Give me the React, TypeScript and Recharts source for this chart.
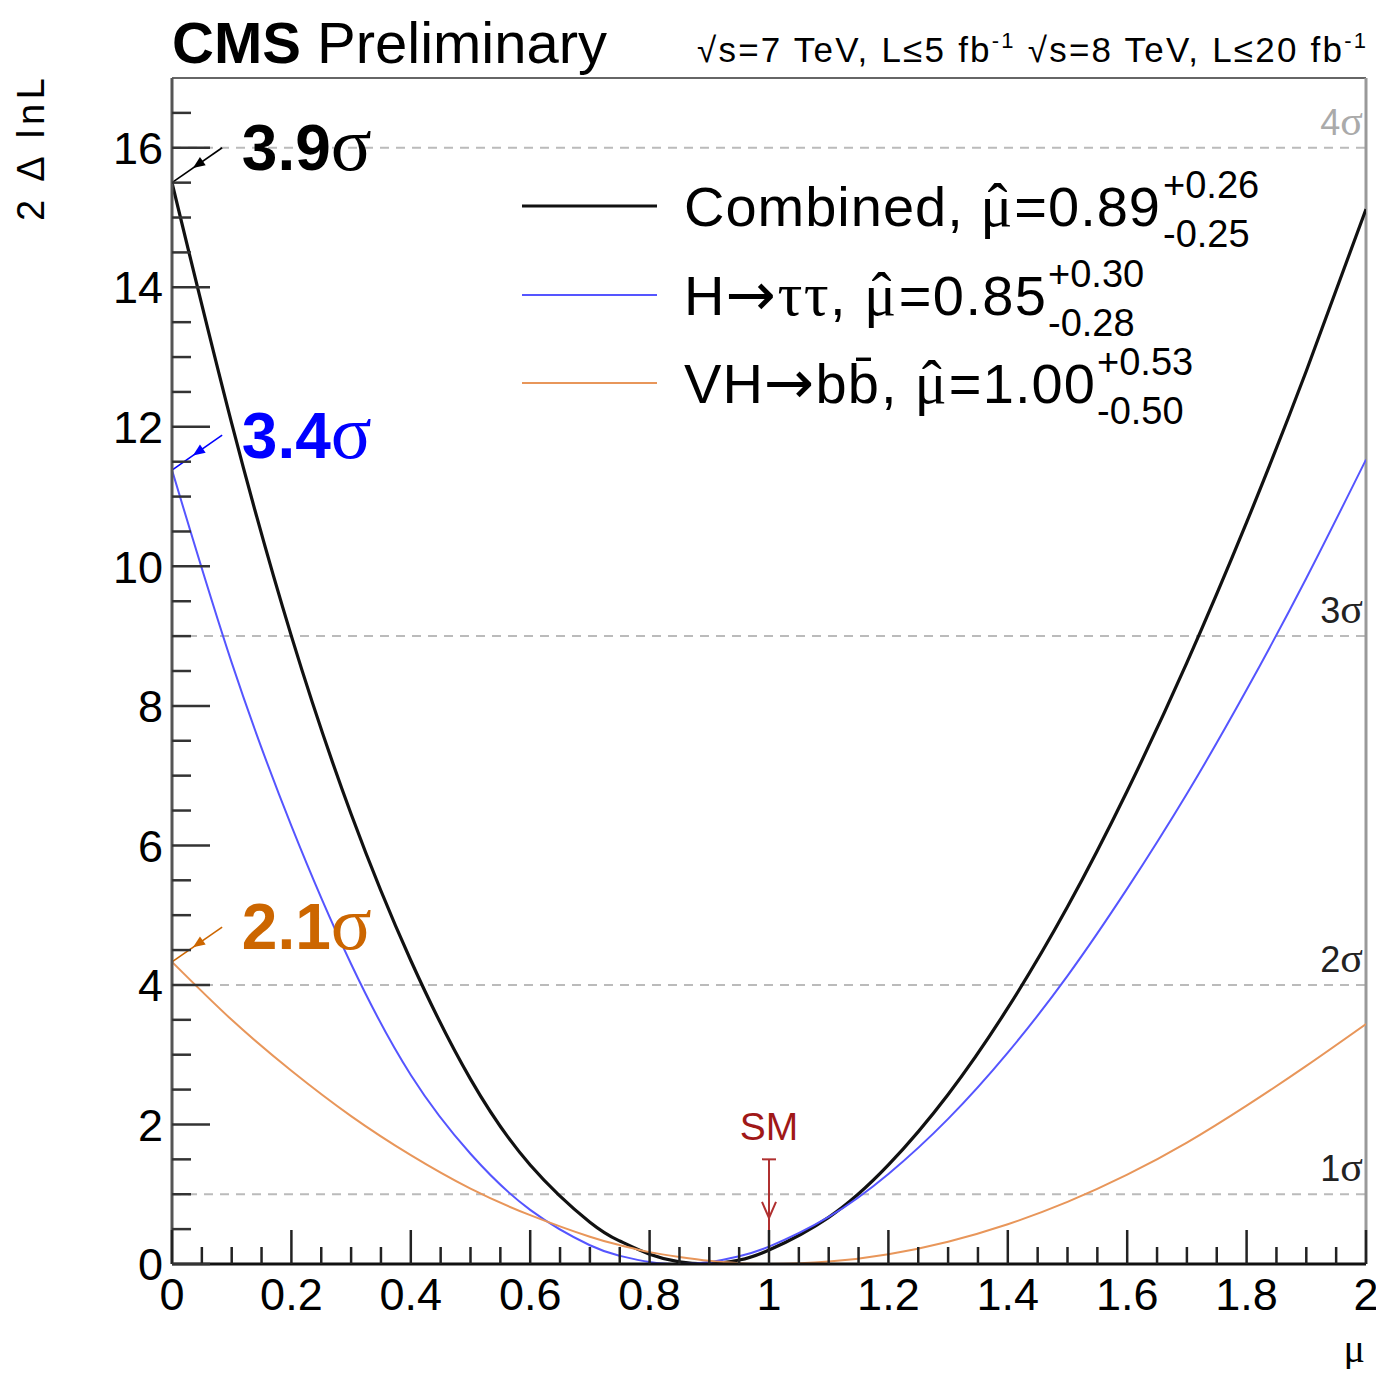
import {
  LineChart,
  Line,
  XAxis,
  YAxis,
  ReferenceLine,
  ReferenceDot,
  Legend,
} from "recharts";

const SANS = "'Liberation Sans', Arial, sans-serif";
const SERIF = "'Liberation Serif', 'Times New Roman', serif";
const ARROWFONT = "'DejaVu Sans', sans-serif";

// mu scan points and 2*Delta lnL
const mu = [0, 0.1, 0.2, 0.3, 0.4, 0.5, 0.6, 0.7, 0.75, 0.8, 0.85, 0.9, 0.95, 1.0, 1.1, 1.2, 1.3, 1.4, 1.5, 1.6, 1.7, 1.8, 1.9, 2.0];
const combined = [15.5, 12.05, 9.0, 6.45, 4.35, 2.65, 1.42, 0.6, 0.33, 0.14, 0.03, 0.002, 0.057, 0.2, 0.669, 1.42, 2.43, 3.67, 5.12, 6.78, 8.62, 10.63, 12.8, 15.12];
const htautau = [11.38, 8.62, 6.28, 4.3, 2.71, 1.58, 0.776, 0.269, 0.118, 0.029, 0, 0.028, 0.112, 0.249, 0.674, 1.29, 2.08, 3.03, 4.13, 5.38, 6.74, 8.23, 9.83, 11.53];
const vhbb = [4.33, 3.5, 2.77, 2.12, 1.56, 1.08, 0.7, 0.39, 0.27, 0.17, 0.1, 0.045, 0.01, 0, 0.035, 0.14, 0.32, 0.57, 0.89, 1.28, 1.74, 2.27, 2.84, 3.44];

const seriesKeys = ["combined", "htt", "vhbb"];
const seriesColors = ["#111111", "#5555ff", "#e8965a"];
const seriesWidths = [3.2, 2, 2];
const legendNames = ["Combined, ", "H→ττ, ", "VH→bb̄, "];
const muHat = ["0.89", "0.85", "1.00"];
const errUp = ["+0.26", "+0.30", "+0.53"];
const errDown = ["-0.25", "-0.28", "-0.50"];

// observed significance of each channel (value of the curve at mu = 0)
const sigText = ["3.9", "3.4", "2.1"];
const sigAtZero = [15.5, 11.38, 4.33];
const sigColors = ["#000000", "#0000ff", "#cc6600"];

// 1..4 sigma levels
const sigmaLevels = [1, 4, 9, 16];
const sigmaNames = ["1", "2", "3", "4"];
const sigmaColors = ["#222", "#222", "#222", "#aaa"];

const xTicks = Array.from({ length: 41 }, (_, i) => Math.round(i * 5) / 100);
const yTicks = Array.from({ length: 34 }, (_, i) => i * 0.5);

const data = mu.map((m, i) => ({
  mu: m,
  combined: combined[i],
  htt: htautau[i],
  vhbb: vhbb[i],
}));

function XTick(props: any) {
  const { x, y, payload } = props;
  const v = payload.value;
  const major = Math.abs(v * 5 - Math.round(v * 5)) < 1e-6;
  return (
    <g>
      <line x1={x} y1={y} x2={x} y2={y - (major ? 34 : 17)} stroke="#222" strokeWidth={2.5} />
      {major && (
        <text x={x} y={y + 46} textAnchor="middle" fontSize={45} fontFamily={SANS} fill="#000">
          {String(Number(v.toFixed(1)))}
        </text>
      )}
    </g>
  );
}

function YTick(props: any) {
  const { x, y, payload } = props;
  const v = payload.value;
  const major = v % 2 === 0;
  return (
    <g>
      <line x1={x} y1={y} x2={x + (major ? 38 : 19)} y2={y} stroke="#333" strokeWidth={2.5} />
      {major && (
        <text x={x - 9} y={y} dy="0.36em" textAnchor="end" fontSize={45} fontFamily={SANS} fill="#000">
          {v}
        </text>
      )}
    </g>
  );
}

function SigmaLabel(props: any) {
  const { viewBox, name, color } = props;
  if (!viewBox) return null;
  return (
    <text x={viewBox.x + viewBox.width - 3} y={viewBox.y - 13} textAnchor="end" fontSize={36} fill={color} fontFamily={SANS}>
      {name}
      <tspan fontFamily={SERIF} fontSize={42}>σ</tspan>
    </text>
  );
}

const sigArrow = (color: string) => (p: any) => {
  const { x1, y1, x2, y2 } = p;
  const mx = (x1 + x2) / 2;
  const my = (y1 + y2) / 2;
  const dx = x2 - x1;
  const dy = y2 - y1;
  const len = Math.hypot(dx, dy) || 1;
  const ux = dx / len;
  const uy = dy / len;
  const hl = 12;
  const hw = 5;
  const tipX = mx + ux * 5;
  const tipY = my + uy * 5;
  const bx = tipX - ux * hl;
  const by = tipY - uy * hl;
  return (
    <g>
      <line x1={x1} y1={y1} x2={x2} y2={y2} stroke={color} strokeWidth={1.6} />
      <polygon
        points={`${tipX},${tipY} ${bx - uy * hw},${by + ux * hw} ${bx + uy * hw},${by - ux * hw}`}
        fill={color}
      />
    </g>
  );
};

const sigTextShape = (i: number) => (p: any) => (
  <text x={p.cx} y={p.cy} fontSize={64} fill={sigColors[i]} fontFamily={SANS}>
    <tspan fontWeight="bold">{sigText[i]}</tspan>
    <tspan fontFamily={SERIF} fontSize={76}>σ</tspan>
  </text>
);

const smArrow = (p: any) => {
  const { x1, y1, y2 } = p;
  const color = "#b03030";
  const yh = y1 + 0.56 * (y2 - y1);
  return (
    <g stroke={color} strokeWidth={2} fill="none">
      <line x1={x1} y1={y1} x2={x1} y2={y2} />
      <line x1={x1 - 7} y1={y1} x2={x1 + 7} y2={y1} />
      <polyline points={`${x1 - 7},${yh - 16} ${x1},${yh} ${x1 + 7},${yh - 16}`} />
    </g>
  );
};

const smText = (p: any) => (
  <text x={p.cx} y={p.cy} textAnchor="middle" fontSize={39} fill="#a01818" fontFamily={SANS}>
    SM
  </text>
);

function renderName(name: string) {
  return name.split("").map((ch, k) =>
    ch === "τ" ? (
      <tspan key={k} fontFamily={SERIF} fontSize={62}>
        {ch}
      </tspan>
    ) : ch === "→" ? (
      <tspan key={k} fontFamily={ARROWFONT} fontSize={60}>
        {ch}
      </tspan>
    ) : (
      ch
    )
  );
}

const legendRowY = [206, 295, 383];
const legendMainLen = [476, 362, 411];
const legendSupX = [1163, 1048, 1097];

function LegendBox(props: any) {
  const payload = props.payload || [];
  return (
    <svg width={1384} height={450} style={{ position: "absolute", left: 0, top: 0, overflow: "visible" }}>
      {payload.map((p: any, i: number) => {
        const ly = legendRowY[i];
        return (
          <g key={i}>
            <line x1={522} x2={657} y1={ly} y2={ly} stroke={p.color} strokeWidth={seriesWidths[i]} />
            <text
              x={684}
              y={ly + 20}
              fontSize={56}
              fontFamily={SANS}
              fill="#000"
              textLength={legendMainLen[i]}
              lengthAdjust="spacing"
            >
              {renderName(legendNames[i])}
              <tspan fontFamily={SERIF} fontSize={60}>μ</tspan>
              <tspan fontFamily={SERIF} fontSize={60} dx={-26} dy={-2}>
                ˆ
              </tspan>
              <tspan dx={6} dy={2}>
                ={muHat[i]}
              </tspan>
            </text>
            <text x={legendSupX[i]} y={ly - 8} fontSize={38} fontFamily={SANS} fill="#000">
              {errUp[i]}
            </text>
            <text x={legendSupX[i]} y={ly + 41} fontSize={38} fontFamily={SANS} fill="#000">
              {errDown[i]}
            </text>
          </g>
        );
      })}
    </svg>
  );
}

export default function App() {
  return (
    <div style={{ position: "relative", width: 1384, height: 1377, margin: -8, background: "#fff" }}>
      <LineChart width={1384} height={1377} data={data} margin={{ top: 78, right: 18, bottom: 112, left: 171 }}>
        {sigmaLevels.map((lv, i) => (
          <ReferenceLine
            key={lv}
            y={lv}
            stroke="#bbb"
            strokeWidth={2}
            strokeDasharray="9 7"
            label={<SigmaLabel name={sigmaNames[i]} color={sigmaColors[i]} />}
          />
        ))}
        <ReferenceLine y={17} stroke="#666" strokeWidth={2} />
        <ReferenceLine x={2} stroke="#999" strokeWidth={3} />
        <XAxis
          dataKey="mu"
          type="number"
          domain={[0, 2]}
          ticks={xTicks}
          interval={0}
          height={1}
          tickSize={0}
          tickMargin={0}
          tick={<XTick />}
          tickLine={false}
          axisLine={{ stroke: "#111", strokeWidth: 3 }}
          allowDataOverflow
        />
        <YAxis
          type="number"
          domain={[0, 17]}
          ticks={yTicks}
          interval={0}
          width={1}
          tickSize={0}
          tickMargin={0}
          tick={<YTick />}
          tickLine={false}
          axisLine={{ stroke: "#555", strokeWidth: 3 }}
          allowDataOverflow
        />
        {seriesKeys.map((k, i) => (
          <Line
            key={k}
            dataKey={k}
            name={legendNames[i]}
            type="natural"
            stroke={seriesColors[i]}
            strokeWidth={seriesWidths[i]}
            dot={false}
            activeDot={false}
            isAnimationActive={false}
          />
        ))}
        {sigAtZero.map((v, i) => (
          <ReferenceLine
            key={"a" + i}
            segment={[
              { x: 0.084, y: v + 0.5 },
              { x: 0, y: v },
            ]}
            shape={sigArrow(sigColors[i])}
          />
        ))}
        {sigAtZero.map((v, i) => (
          <ReferenceDot key={"t" + i} x={0.117} y={v + 0.18} shape={sigTextShape(i)} />
        ))}
        <ReferenceLine
          segment={[
            { x: 1, y: 1.5 },
            { x: 1, y: 0 },
          ]}
          shape={smArrow}
        />
        <ReferenceDot x={1} y={1.78} shape={smText} />
        <Legend
          layout="vertical"
          align="center"
          verticalAlign="middle"
          content={<LegendBox />}
          wrapperStyle={{ position: "absolute", left: 0, top: 0, width: 1384, height: 0 }}
        />
      </LineChart>
      <svg
        width={1384}
        height={1377}
        style={{ position: "absolute", left: 0, top: 0, pointerEvents: "none" }}
      >
        <text x={172} y={63} fontSize={58} fontFamily={SANS} fill="#000">
          <tspan fontWeight="bold">CMS</tspan> Preliminary
        </text>
        <text x={697} y={62} fontSize={35} fontFamily={SANS} fill="#000" textLength={669} lengthAdjust="spacing">
          √s=7 TeV, L≤5 fb
          <tspan dy={-14} fontSize={22}>
            -1
          </tspan>
          <tspan dy={14}> √s=8 TeV, L≤20 fb</tspan>
          <tspan dy={-14} fontSize={22}>
            -1
          </tspan>
        </text>
        <text
          x={44}
          y={78}
          transform="rotate(-90, 44, 78)"
          textAnchor="end"
          fontSize={38}
          fontFamily={SANS}
          fill="#000"
          textLength={143}
          lengthAdjust="spacing"
        >
          2 Δ lnL
        </text>
        <text x={1365} y={1362} textAnchor="end" fontSize={40} fontFamily={SERIF} fill="#000">
          μ
        </text>
      </svg>
    </div>
  );
}
